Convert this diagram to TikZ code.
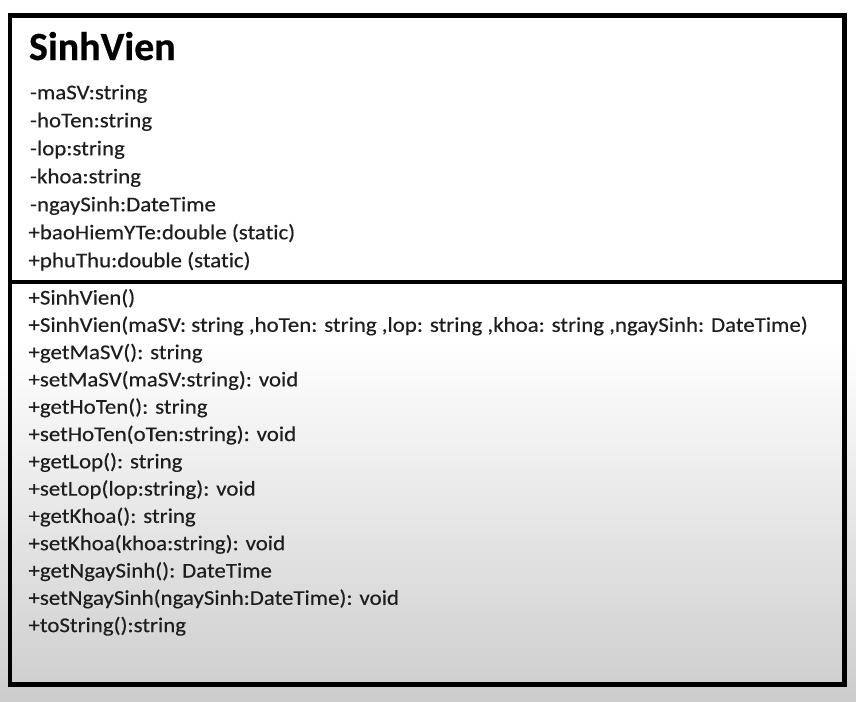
\documentclass[tikz,border=0pt]{standalone}
\usepackage{fontspec}
\setmainfont{Carlito}[Ligatures=NoCommon]
\newfontfamily\memberfont{Carlito}[Ligatures=NoCommon,FakeStretch=1.09,FakeBold=0.3]
\newfontfamily\titlefont{Carlito Bold}[Ligatures=NoCommon,FakeBold=0.5]
\definecolor{bgbottom}{RGB}{205,205,205}
\definecolor{txt}{RGB}{30,30,30}
\begin{document}
\begin{tikzpicture}[x=1pt,y=-1pt,
  member/.style={anchor=base west,inner sep=0pt,outer sep=0pt,font=\memberfont\fontsize{21}{24}\selectfont,text=txt},
  title/.style={anchor=base west,inner sep=0pt,outer sep=0pt,font=\titlefont\fontsize{40}{48}\selectfont,text=black},
  border/.style={draw=black,line width=4.6pt}]
\useasboundingbox (0,0) rectangle (856,701);
\fill[white] (0,0) rectangle (856,341);
\shade[top color=white,bottom color=bgbottom] (0,340) rectangle (856,701);
% class box
\draw[border] (9.8,15.3) rectangle (844.5,684.2);
\draw[border] (9.8,282) -- (844.5,282);
% title
\node[title] (cls) at (29,60) {SinhVien};
% attributes
\node[member] (a1) at (30,99.3) {-maSV:string};
\node[member] (a2) at (30,127.3) {-hoTen:string};
\node[member] (a3) at (30,155.3) {-lop:string};
\node[member] (a4) at (30,183.3) {-khoa:string};
\node[member] (a5) at (30,211.3) {-ngaySinh:DateTime};
\node[member] (a6) at (28.5,239.3) {+baoHiemYTe:double (static)};
\node[member] (a7) at (28.5,267.3) {+phuThu:double (static)};
% methods
\node[member] (m1) at (28.5,304.5) {+SinhVien()};
\node[member] (m2) at (28.5,331.8) {+SinhVien(maSV: string ,hoTen: string ,lop: string ,khoa: string ,ngaySinh: DateTime)};
\node[member] (m3) at (28.5,359.1) {+getMaSV(): string};
\node[member] (m4) at (28.5,386.4) {+setMaSV(maSV:string): void};
\node[member] (m5) at (28.5,413.7) {+getHoTen(): string};
\node[member] (m6) at (28.5,441.0) {+setHoTen(oTen:string): void};
\node[member] (m7) at (28.5,468.3) {+getLop(): string};
\node[member] (m8) at (28.5,495.6) {+setLop(lop:string): void};
\node[member] (m9) at (28.5,522.9) {+getKhoa(): string};
\node[member] (m10) at (28.5,550.2) {+setKhoa(khoa:string): void};
\node[member] (m11) at (28.5,577.5) {+getNgaySinh(): DateTime};
\node[member] (m12) at (28.5,604.8) {+setNgaySinh(ngaySinh:DateTime): void};
\node[member] (m13) at (28.5,632.1) {+toString():string};
\end{tikzpicture}
\end{document}
